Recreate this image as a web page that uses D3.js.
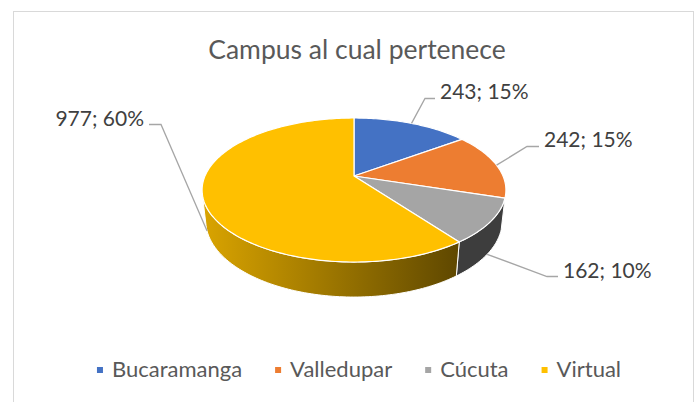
<!DOCTYPE html>
<html>
<head>
<meta charset="utf-8">
<script src="https://cdn.jsdelivr.net/npm/d3@7"></script>
<style>
	body { margin: 0; background: #fff; }
	svg { display: block; }
</style>
</head>
<body>
<script>
// data
const categories = ['Bucaramanga', 'Valledupar', 'Cúcuta', 'Virtual'];
const values = [243, 242, 162, 977];
const colors = ['#4472C4', '#ED7D31', '#A5A5A5', '#FFC000'];
const chartTitle = 'Campus al cual pertenece';

// label placement (text x / baseline, elbow of leader line)
const labelLayout = [
	{ tx: 440, ty: 99, ex: 425, ey: 98.5, anchor: 'start' },
	{ tx: 544, ty: 147, ex: 527, ey: 146.5, anchor: 'start' },
	{ tx: 563, ty: 278, ex: 547, ey: 276.5, anchor: 'start' },
	{ tx: 144, ty: 126, ex: 161, ey: 124.5, anchor: 'end' }
];

const width = 698, height = 402;
const font = 'Lato, "Open Sans", sans-serif';

// 3d view of the pie: perspective projection of a flat cylinder
const view = { cx: 354, cy: 176, k: 678, dist: 4.55, tilt: Math.asin(0.465), depth: 0.236 };
const sinT = Math.sin(view.tilt), cosT = Math.cos(view.tilt);

function proj(theta, yy) {
	// theta clockwise from the back of the pie, yy = 0 top face, -depth bottom
	const X = Math.sin(theta), Z = Math.cos(theta);
	const v = yy * cosT + Z * sinT;
	const w = view.dist + Z * cosT - yy * sinT;
	return [view.cx + view.k * X / w, view.cy - view.k * v / w];
}

// silhouette of the side wall
const sil = Math.acos(-(1 / view.dist) / cosT);

const total = d3.sum(values);
const pct = d3.format('.0%');
const pie = d3.pie().sort(null).startAngle(0).endAngle(2 * Math.PI);
const arcs = pie(values);

const svg = d3.select('body').append('svg')
	.attr('width', width)
	.attr('height', height);

// chart border
svg.append('rect')
	.attr('x', 13.5).attr('y', 11.5)
	.attr('width', 680).attr('height', 420)
	.attr('fill', '#fff')
	.attr('stroke', '#D9D9D9')
	.attr('stroke-width', 1);

svg.append('text')
	.attr('x', 357).attr('y', 59)
	.attr('text-anchor', 'middle')
	.attr('font-family', font)
	.attr('font-size', 26.5)
	.attr('fill', '#595959')
	.text(chartTitle);

// side shading gradients
const defs = svg.append('defs');
const shade = [[0, 0.86], [0.45, 0.64], [1, 0.37]];
colors.forEach((c, i) => {
	const g = defs.append('linearGradient')
		.attr('id', 'side' + i)
		.attr('gradientUnits', 'userSpaceOnUse')
		.attr('x1', 200).attr('x2', 460).attr('y1', 0).attr('y2', 0);
	shade.forEach(s => {
		const col = d3.rgb(c);
		g.append('stop')
			.attr('offset', s[0])
			.attr('stop-color', d3.rgb(col.r * s[1], col.g * s[1], col.b * s[1]).formatHex());
	});
});

function rim(a0, a1, yy) {
	const n = Math.max(2, Math.ceil((a1 - a0) / 0.02));
	return d3.range(n + 1).map(j => proj(a0 + (a1 - a0) * j / n, yy));
}

// side walls
arcs.forEach((d, i) => {
	const a0 = Math.max(d.startAngle, sil);
	const a1 = Math.min(d.endAngle, 2 * Math.PI - sil);
	if (a1 <= a0) return;
	const pts = rim(a0, a1, 0).concat(rim(a0, a1, -view.depth).reverse());
	svg.append('path')
		.attr('d', d3.line()(pts) + 'Z')
		.attr('fill', 'url(#side' + i + ')')
		.attr('stroke', '#fff')
		.attr('stroke-width', 1)
		.attr('stroke-linejoin', 'round');
});

// top faces
svg.selectAll('.slice')
	.data(arcs)
	.enter()
	.append('path')
	.attr('class', 'slice')
	.attr('d', d => d3.line()([[view.cx, view.cy]].concat(rim(d.startAngle, d.endAngle, 0))) + 'Z')
	.attr('fill', (d, i) => colors[i])
	.attr('stroke', '#fff')
	.attr('stroke-width', 1.2)
	.attr('stroke-linejoin', 'round');

// leader lines and labels
arcs.forEach((d, i) => {
	const mid = (d.startAngle + d.endAngle) / 2;
	const start = proj(mid, Math.cos(mid) < 0 ? -view.depth : 0);
	const L = labelLayout[i];
	const hx = L.anchor === 'start' ? L.tx - 5 : L.tx + 5;
	svg.append('path')
		.attr('d', d3.line()([start, [L.ex, L.ey], [hx, L.ey]]))
		.attr('fill', 'none')
		.attr('stroke', '#A6A6A6')
		.attr('stroke-width', 1.3);
	svg.append('text')
		.attr('x', L.tx).attr('y', L.ty)
		.attr('text-anchor', L.anchor)
		.attr('font-family', font)
		.attr('font-size', 21)
		.attr('fill', '#404040')
		.text(d.data + '; ' + pct(d.data / total));
});

// legend
const legend = svg.append('g');
let lx = 0;
const items = legend.selectAll('g')
	.data(categories)
	.enter()
	.append('g');
items.append('rect')
	.attr('y', -3).attr('width', 6).attr('height', 6)
	.attr('fill', (d, i) => colors[i]);
items.append('text')
	.attr('x', 15).attr('y', 7)
	.attr('font-family', font)
	.attr('font-size', 22)
	.attr('fill', '#595959')
	.text(d => d);
items.each(function (d) {
	const tw = d3.select(this).select('text').node().getComputedTextLength();
	d3.select(this).attr('transform', `translate(${lx},0)`);
	lx += 15 + tw + 33;
});
const legendW = lx - 33;
legend.attr('transform', `translate(${359 - legendW / 2},370)`);
</script>
</body>
</html>
